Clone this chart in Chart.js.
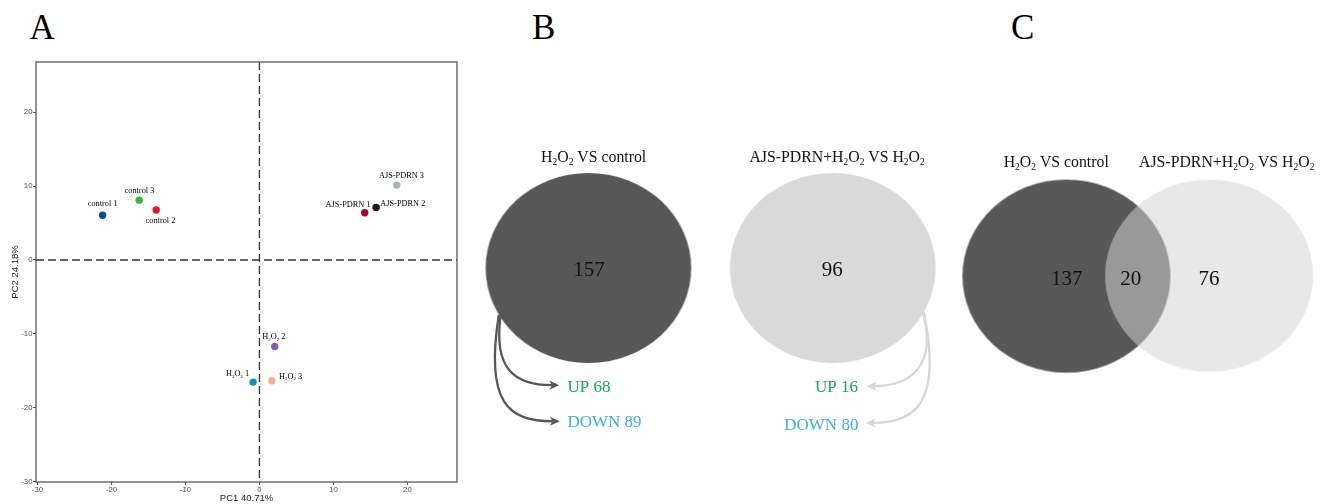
<!DOCTYPE html>
<html>
<head>
<meta charset="utf-8">
<script src="https://cdn.jsdelivr.net/npm/chart.js@4.4.1/dist/chart.umd.min.js"></script>
<style>
  html, body { margin: 0; padding: 0; background: #fff; }
  #wrap { position: relative; width: 1329px; height: 504px; overflow: hidden; background: #fff; }
  canvas { position: absolute; top: 0; }
  #pca { left: 0; }
  #venn { left: 470px; }
  .tag { position: absolute; top: 10px; font-family: "Liberation Serif", "Times New Roman", serif;
         font-size: 35px; line-height: 35px; color: #000; }
</style>
</head>
<body>
<div id="wrap">
  <div class="tag" style="left:29.5px">A</div>
  <div class="tag" style="left:532px">B</div>
  <div class="tag" style="left:1011px">C</div>
  <canvas id="pca" width="470" height="504"></canvas>
  <canvas id="venn" width="859" height="504"></canvas>
</div>
<script>
// ---- PCA scores (PC1 / PC2) ----
const sampleNames = ['control 1', 'control 2', 'control 3',
                     'H_2O_2 1', 'H_2O_2 2', 'H_2O_2 3',
                     'AJS-PDRN 1', 'AJS-PDRN 2', 'AJS-PDRN 3'];
const pc1 = [-21.2, -13.96, -16.26, -0.86, 2.07, 1.67, 14.23, 15.77, 18.56];
const pc2 = [6.05, 6.76, 8.1, -16.53, -11.71, -16.35, 6.4, 7.12, 10.14];
const axisTicks = [-30, -20, -10, 0, 10, 20];
const pc1Title = 'PC1 40.71%';
const pc2Title = 'PC2 24.18%';

// ---- differentially expressed gene counts ----
const comparisons = ['H_2O_2 VS control', 'AJS-PDRN+H_2O_2 VS H_2O_2'];
const degTotals = [157, 96];
const degShared = 20;
const degUp = [68, 16];
const degDown = [89, 80];

// ---- styling ----
const sampleColors = ['#0b4a99', '#e8141b', '#3cb43c', '#0e90b5', '#8e59a6',
                      '#f8af8c', '#b1002b', '#1b1b1b', '#a9b5b4'];
// label centre offsets (px) from each point
const labelOffsets = [[0, -11.7], [4.3, 10.3], [0.3, -9.7], [-15.5, -8.7], [-0.9, -10.3],
                      [18.8, -4.7], [-16.7, -8.6], [26.7, -3.7], [4.7, -10.3]];
const SERIF = '"Liberation Serif", "Times New Roman", serif';
const SANS = '"Liberation Sans", Arial, sans-serif';
const UP_COLOR = '#19a94a';
const DOWN_COLOR = '#3aade6';

// text with "_x" subscripts, centred on cap height
function richRuns(str) {
  const runs = []; let buf = '';
  for (let i = 0; i < str.length; i++) {
    if (str[i] === '_') {
      if (buf) { runs.push({ t: buf, sub: false }); buf = ''; }
      runs.push({ t: str[i + 1], sub: true }); i++;
    } else buf += str[i];
  }
  if (buf) runs.push({ t: buf, sub: false });
  return runs;
}
function drawRich(ctx, str, x, cy, size, family, color, align, weight) {
  const runs = richRuns(str);
  const subSize = size * 0.6;
  const w8 = weight ? weight + ' ' : '';
  let w = 0;
  runs.forEach(r => {
    ctx.font = w8 + (r.sub ? subSize : size) + 'px ' + family;
    r.w = ctx.measureText(r.t).width; w += r.w;
  });
  let px = align === 'left' ? x : align === 'right' ? x - w : x - w / 2;
  const base = cy + size * 0.33;
  ctx.save();
  ctx.fillStyle = color; ctx.textAlign = 'left'; ctx.textBaseline = 'alphabetic';
  runs.forEach(r => {
    ctx.font = w8 + (r.sub ? subSize : size) + 'px ' + family;
    ctx.fillText(r.t, px, r.sub ? base + size * 0.2 : base);
    px += r.w;
  });
  ctx.restore();
}

// ---- Panel A: PCA scatter ----
const pcaDecor = {
  id: 'pcaDecor',
  beforeDatasetsDraw(chart) {
    const { ctx, chartArea: a, scales: { x, y } } = chart;
    ctx.save();
    ctx.strokeStyle = '#333'; ctx.lineWidth = 1.3; ctx.setLineDash([8, 4]);
    const x0 = x.getPixelForValue(0), y0 = y.getPixelForValue(0);
    ctx.beginPath(); ctx.moveTo(x0, a.top); ctx.lineTo(x0, a.bottom); ctx.stroke();
    ctx.beginPath(); ctx.moveTo(a.left, y0); ctx.lineTo(a.right, y0); ctx.stroke();
    ctx.restore();
  },
  afterDatasetsDraw(chart) {
    const { ctx } = chart;
    const meta = chart.getDatasetMeta(0);
    meta.data.forEach((pt, i) => {
      drawRich(ctx, sampleNames[i], pt.x + labelOffsets[i][0], pt.y + labelOffsets[i][1],
               8.3, SERIF, '#000', 'center');
    });
  },
  afterDraw(chart) {
    const { ctx, chartArea: a } = chart;
    ctx.save();
    ctx.strokeStyle = '#5a5a5a'; ctx.lineWidth = 1.3;
    ctx.strokeRect(a.left, a.top, a.right - a.left, a.bottom - a.top);
    ctx.restore();
  }
};

const tickFont = { family: SANS, size: 7.8 };
new Chart(document.getElementById('pca'), {
  type: 'scatter',
  data: {
    datasets: [{
      data: pc1.map((v, i) => ({ x: v, y: pc2[i] })),
      pointBackgroundColor: sampleColors,
      pointBorderColor: sampleColors,
      pointBorderWidth: 0,
      pointRadius: 3.7
    }]
  },
  options: {
    responsive: false, animation: false, events: [],
    layout: { padding: { top: 62, right: 13, left: 0, bottom: 0 } },
    plugins: { legend: { display: false }, tooltip: { enabled: false } },
    scales: {
      x: {
        type: 'linear', min: -30.2, max: 26.7,
        afterBuildTicks: s => { s.ticks = axisTicks.map(v => ({ value: v })); },
        afterFit: s => { s.height = 22; },
        grid: { drawOnChartArea: false, drawTicks: true, tickLength: 3, color: '#555', lineWidth: 1 },
        border: { display: false },
        ticks: { padding: 0, color: '#4d4d4d', font: tickFont, maxRotation: 0, autoSkip: false },
        title: { display: true, text: pc1Title, color: '#222', font: { family: SANS, size: 9.5 },
                 padding: { top: 0, bottom: 0 } }
      },
      y: {
        type: 'linear', min: -30.05, max: 26.8,
        afterBuildTicks: s => { s.ticks = axisTicks.map(v => ({ value: v })); },
        afterFit: s => { s.width = 36; },
        grid: { drawOnChartArea: false, drawTicks: true, tickLength: 3, color: '#555', lineWidth: 1 },
        border: { display: false },
        ticks: { padding: 0.5, color: '#4d4d4d', font: tickFont, autoSkip: false },
        title: { display: true, text: pc2Title, color: '#222', font: { family: SANS, size: 9.5 },
                 padding: { top: 9.3, bottom: 0 } }
      }
    }
  },
  plugins: [pcaDecor]
});

// ---- Panels B & C: Venn diagrams (page-pixel coordinate system) ----
const vennEllipses = [
  { cx: 585.5, cy: 268.3, rx: 102.8, ry: 95, fill: '#575757' },
  { cx: 832, cy: 268.3, rx: 102.8, ry: 95, fill: '#d9d9d9' },
  { cx: 1068, cy: 276.5, rx: 104, ry: 96.5, fill: '#585858' },
  { cx: 1212, cy: 276, rx: 104, ry: 96, fill: 'rgba(211,211,211,0.53)' }
];
function ellipseSprite(e) {
  const c = document.createElement('canvas');
  c.width = Math.round(e.rx * 2) + 2; c.height = Math.round(e.ry * 2) + 2;
  const g = c.getContext('2d');
  g.fillStyle = e.fill;
  g.beginPath(); g.ellipse(c.width / 2, c.height / 2, e.rx, e.ry, 0, 0, Math.PI * 2); g.fill();
  return c;
}

function curvedArrow(ctx, P, color) {
  const [p0, c1, c2, p3] = P;
  const ang = Math.atan2(p3.y - c2.y, p3.x - c2.x);
  const len = 10, hw = 4.6;
  const cos = Math.cos(ang), sin = Math.sin(ang);
  const back = { x: p3.x - cos * len * 0.7, y: p3.y - sin * len * 0.7 };
  ctx.save();
  ctx.strokeStyle = color; ctx.fillStyle = color; ctx.lineWidth = 2.3;
  ctx.beginPath(); ctx.moveTo(p0.x, p0.y);
  ctx.bezierCurveTo(c1.x, c1.y, c2.x, c2.y, back.x, back.y); ctx.stroke();
  ctx.beginPath();
  ctx.moveTo(p3.x, p3.y);
  ctx.lineTo(p3.x - cos * len + sin * hw, p3.y - sin * len - cos * hw);
  ctx.lineTo(back.x, back.y);
  ctx.lineTo(p3.x - cos * len - sin * hw, p3.y - sin * len + cos * hw);
  ctx.closePath(); ctx.fill();
  ctx.restore();
}

const arrowPaths = [
  { color: '#565656', pts: [[497, 316], [489, 372], [512, 387.3], [556, 387.3]] },
  { color: '#565656', pts: [[495, 316], [481, 406], [505, 424], [556.5, 424]] },
  { color: '#d6d6d6', pts: [[923, 313], [938, 368], [910, 388.3], [866.5, 388.3]] },
  { color: '#d6d6d6', pts: [[924, 313], [943, 406], [915, 425.7], [865.5, 425.7]] }
];

const vennDecor = {
  id: 'vennDecor',
  afterDatasetsDraw(chart) {
    const { ctx, scales: { x, y } } = chart;
    const X = v => x.getPixelForValue(v), Y = v => y.getPixelForValue(v);
    // panel B
    drawRich(ctx, comparisons[0], X(590.8), Y(155), 15.8, SERIF, '#111', 'center');
    drawRich(ctx, comparisons[1], X(836.5), Y(155), 15.8, SERIF, '#111', 'center');
    drawRich(ctx, String(degTotals[0]), X(586), Y(269.3), 21, SERIF, '#111', 'center');
    drawRich(ctx, String(degTotals[1]), X(831.7), Y(269), 21, SERIF, '#111', 'center');
    drawRich(ctx, 'UP ' + degUp[0], X(564.3), Y(388.3), 17, SERIF, UP_COLOR, 'left');
    drawRich(ctx, 'DOWN ' + degDown[0], X(564.3), Y(424), 17, SERIF, DOWN_COLOR, 'left');
    drawRich(ctx, 'UP ' + degUp[1], X(857.5), Y(389), 17, SERIF, UP_COLOR, 'right');
    drawRich(ctx, 'DOWN ' + degDown[1], X(858), Y(426.7), 17, SERIF, DOWN_COLOR, 'right');
    arrowPaths.forEach(a => curvedArrow(ctx, a.pts.map(p => ({ x: X(p[0]), y: Y(p[1]) })), a.color));
    // panel C
    drawRich(ctx, comparisons[0], X(1057.7), Y(160), 15.8, SERIF, '#111', 'center');
    drawRich(ctx, comparisons[1], X(1229.8), Y(160), 15.8, SERIF, '#111', 'center');
    drawRich(ctx, String(degTotals[0] - degShared), X(1068.3), Y(278.3), 21, SERIF, '#111', 'center');
    drawRich(ctx, String(degShared), X(1132.8), Y(278.3), 21, SERIF, '#111', 'center');
    drawRich(ctx, String(degTotals[1] - degShared), X(1211.8), Y(278.3), 21, SERIF, '#111', 'center');
  }
};

new Chart(document.getElementById('venn'), {
  type: 'scatter',
  data: {
    datasets: [{
      data: vennEllipses.map(e => ({ x: e.cx, y: e.cy })),
      pointStyle: vennEllipses.map(ellipseSprite),
      pointRadius: 1,
      pointBorderWidth: 0,
      clip: false
    }]
  },
  options: {
    responsive: false, animation: false, events: [],
    layout: { padding: 0 },
    plugins: { legend: { display: false }, tooltip: { enabled: false } },
    scales: {
      x: { type: 'linear', display: false, min: 470, max: 1329 },
      y: { type: 'linear', display: false, min: 0, max: 504, reverse: true }
    }
  },
  plugins: [vennDecor]
});
</script>
</body>
</html>
